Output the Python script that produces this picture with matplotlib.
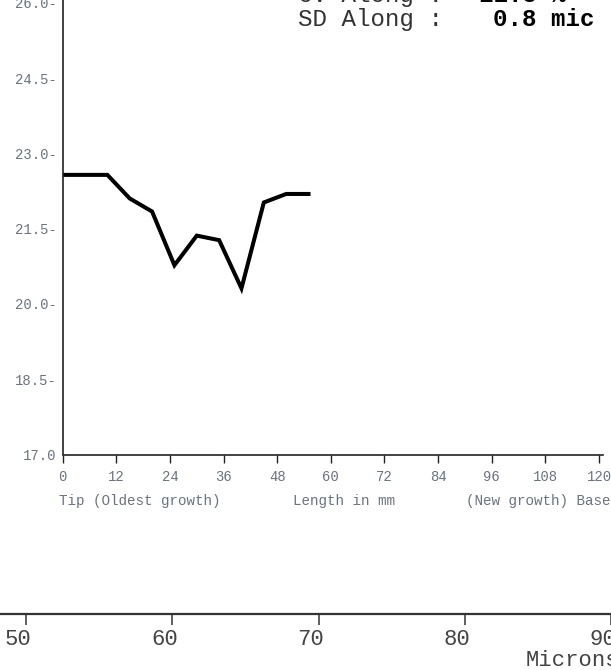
import matplotlib
matplotlib.use("Agg")
import matplotlib.pyplot as plt
import matplotlib.transforms as mtransforms

# fibre diameter along the staple (mm from tip -> micron)
length_mm = [0, 5, 10, 15, 20, 25, 30, 35, 40, 45, 50, 55]
diameter = [22.57, 22.57, 22.57, 22.10, 21.84, 20.77, 21.36, 21.27, 20.31, 22.02, 22.19, 22.19]

y_ticks = [17.0, 18.5, 20.0, 21.5, 23.0, 24.5, 26.0]
x_ticks = [0, 12, 24, 36, 48, 60, 72, 84, 96, 108, 120]
micron_ticks = [50, 60, 70, 80, 90]

W, H = 611, 670
MONO = "Liberation Mono"
GREY = "#6b7280"

fig = plt.figure(figsize=(W / 100, H / 100), dpi=100)
fig.patch.set_facecolor("white")


def fx(x):
    return x / W


def fy(y):
    return 1 - y / H


# main profile axes
x0, x1 = 62.7, 603.0
y_bot, y_top = 454.5, 0.0
ax = fig.add_axes([fx(x0), fy(y_bot), fx(x1 - x0), (y_bot - y_top) / H])
px_per_mm = (599.0 - 62.7) / 120
px_per_mic = (454.5 - 153.3) / 6.0
ax.set_xlim(0, (x1 - x0) / px_per_mm)
ax.set_ylim(17.0, 17.0 + (y_bot - y_top) / px_per_mic)

ax.plot(length_mm, diameter, color="black", lw=2.9, solid_joinstyle="miter")

for s in ["top", "right"]:
    ax.spines[s].set_visible(False)
ax.spines["left"].set_color("#222222")
ax.spines["bottom"].set_color("#222222")
ax.spines["left"].set_linewidth(1.2)
ax.spines["bottom"].set_linewidth(1.2)

ax.set_yticks(y_ticks)
ax.set_yticklabels([f"{v:.1f}" if v == 17.0 else f"{v:.1f}-" for v in y_ticks])
ax.tick_params(axis="y", length=0, pad=4.5, labelsize=10, labelcolor=GREY)
ax.set_xticks(x_ticks)
ax.set_xticklabels([str(v) for v in x_ticks])
ax.tick_params(axis="x", direction="out", length=5.8, width=1.0, color="#222222",
               pad=5.5, labelsize=10, labelcolor=GREY)
for lab in ax.get_yticklabels() + ax.get_xticklabels():
    lab.set_family(MONO)

row_y = 501
for txt, xpos in [("Tip (Oldest growth)", 58.7), ("Length in mm", 293.0),
                  ("(New growth) Base", 466.0)]:
    fig.text(fx(xpos), fy(row_y), txt, family=MONO, fontsize=10.3, color=GREY,
             ha="left", va="center")

# summary text at the top (cut off by the scan)
fig.text(fx(298), fy(2), "CV Along :", family=MONO, fontsize=17.4, color="#333333",
         ha="left", va="baseline")
fig.text(fx(478.5), fy(2), "11.5 %", family=MONO, fontsize=17.4, weight="bold",
         color="black", ha="left", va="baseline")
fig.text(fx(298), fy(26), "SD Along :", family=MONO, fontsize=17.4, color="#333333",
         ha="left", va="baseline")
fig.text(fx(493), fy(26), "0.8 mic", family=MONO, fontsize=17.4, weight="bold",
         color="black", ha="left", va="baseline")

# micron scale of the next chart on the page
line_y = 614
bx = fig.add_axes([0, fy(line_y), 1, 0.01])
mic_px = (474.0 - 26.6) / 30
left_val = 50 - 26.6 / mic_px
bx.set_xlim(left_val, left_val + W / mic_px)
bx.set_ylim(0, 1)
for s in ["top", "right", "left"]:
    bx.spines[s].set_visible(False)
bx.spines["bottom"].set_color("#333333")
bx.spines["bottom"].set_linewidth(1.6)
bx.set_yticks([])
bx.set_xticks(micron_ticks)
bx.set_xticklabels([str(v) for v in micron_ticks])
bx.tick_params(axis="x", direction="out", length=8, width=1.2, color="#444444",
               pad=3, labelsize=16, labelcolor="#444444")
shift = mtransforms.ScaledTranslation(-8 / 100, 0, fig.dpi_scale_trans)
for lab in bx.get_xticklabels():
    lab.set_family(MONO)
    lab.set_transform(lab.get_transform() + shift)

fig.text(fx(526), fy(660), "Microns", family=MONO, fontsize=16, color="#444444",
         ha="left", va="center")

fig.savefig("out.png", dpi=100, facecolor="white")
